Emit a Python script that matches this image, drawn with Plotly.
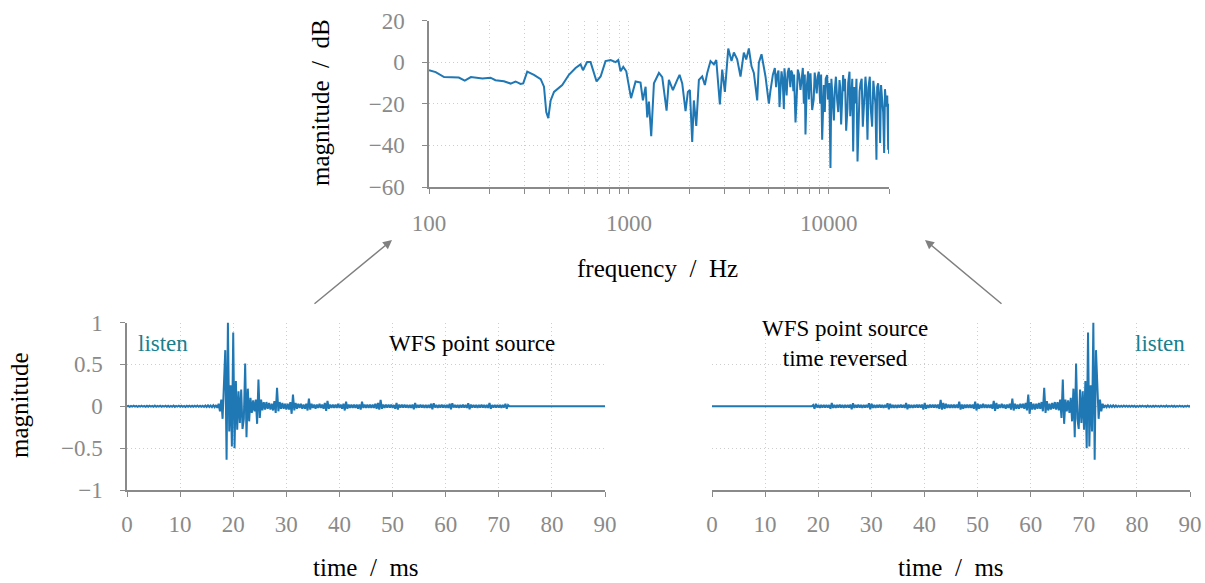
import plotly.graph_objects as go

# frequency response (top): values
freq_hz = [
    100, 108, 119, 141, 151, 162, 185, 203, 215, 237,
    256, 271, 287, 296, 310, 335, 362, 376, 386, 395,
    406, 422, 464, 501, 541, 573, 589, 618, 643, 668,
    689, 722, 764, 810, 858, 885, 908, 937, 970, 1025,
    1080, 1143, 1175, 1212, 1235, 1259, 1293, 1334, 1413, 1468,
    1543, 1585, 1660, 1745, 1792, 1848, 1920, 1972, 2018, 2073,
    2113, 2172, 2239, 2326, 2399, 2465, 2560, 2661, 2735, 2851,
    2929, 3020, 3140, 3261, 3350, 3480, 3616, 3758, 3861, 3981,
    4104, 4217, 4383, 4467, 4606, 4822, 5012, 5100, 5166, 5250,
    5370, 5450, 5516, 5600, 5667, 5720, 5798, 5880, 5957, 6000,
    6071, 6150, 6230, 6310, 6420, 6480, 6556, 6650, 6700, 6813,
    6900, 6998, 7100, 7215, 7300, 7413, 7500, 7580, 7643, 7750,
    7880, 7950, 8000, 8099, 8150, 8254, 8400, 8500, 8577, 8700,
    8800, 8913, 9050, 9150, 9261, 9350, 9441, 9550, 9650, 9809,
    9900, 10050, 10193, 10300, 10471, 10600, 10715, 10850, 11007, 11150,
    11308, 11400, 11524, 11650, 11794, 11900, 12050, 12209, 12400, 12500,
    12690, 12800, 12985, 13100, 13237, 13400, 13600, 13750, 13917, 14100,
    14250, 14402, 14600, 14791, 15000, 15250, 15400, 15609, 15800, 16032,
    16200, 16469, 16700, 16916, 17100, 17309, 17450, 17644, 17850, 18059,
    18250, 18493, 18700, 18914, 19100, 19364, 19600, 19815, 19900, 20000,
]
mag_db = [
    -3.9, -4.8, -7.2, -7.4, -8.9, -7.2, -7.9, -7.5, -8.7, -9.2,
    -10.3, -9.3, -10.5, -10.2, -4.6, -6.1, -8.2, -11.8, -24.0, -26.9,
    -18.4, -14.3, -11.0, -6.1, -2.8, -1.1, -3.9, 0.0, 0.0, -5.2,
    -9.3, -6.9, 0.5, 1.0, 0.0, 1.0, -4.4, -2.3, -4.4, -17.3,
    -9.3, -9.8, -18.4, -11.8, -26.6, -19.0, -35.6, -10.2, -5.2, -7.2,
    -23.3, -8.5, -13.4, -8.5, -6.1, -10.2, -23.6, -14.3, -13.4, -38.4,
    -18.4, -30.7, -8.5, -6.9, -11.0, -5.2, 0.5, -1.1, 1.0, -20.3,
    -3.6, -14.3, 6.5, 0.5, 4.6, 1.3, -6.9, 4.6, 1.3, 6.6,
    -2.0, -5.2, -18.4, -0.3, 3.8, -6.9, -20.0, -14.0, -10.2, -6.0,
    -2.8, -12.0, -6.1, -4.0, -21.6, -15.0, -4.4, -9.0, -22.5, -3.0,
    -10.2, -16.0, -5.0, -2.8, -12.0, -4.0, -5.2, -14.0, -6.0, -29.0,
    -18.0, -3.6, -6.0, -13.4, -9.0, -2.8, -20.0, -6.0, -34.8, -12.0,
    -4.4, -18.0, -8.0, -5.4, -12.0, -23.0, -18.0, -5.0, -8.6, -15.0,
    -7.0, -4.6, -20.0, -6.0, -37.3, -16.0, -11.0, -24.0, -8.0, -6.2,
    -18.0, -10.0, -50.9, -8.0, -23.0, -28.0, -13.4, -7.0, -18.2, -24.0,
    -8.6, -12.0, -30.0, -20.0, -6.2, -14.0, -8.0, -33.0, -22.0, -10.0,
    -4.6, -26.0, -16.6, -8.0, -42.9, -12.0, -19.8, -8.0, -47.7, -26.0,
    -14.0, -10.2, -8.0, -31.0, -22.0, -7.0, -13.0, -37.3, -12.0, -7.0,
    -22.0, -31.0, -9.0, -14.2, -20.0, -46.9, -12.0, -10.2, -16.0, -38.9,
    -11.0, -18.2, -24.0, -43.7, -13.0, -21.4, -16.0, -42.1, -20.0, -44.0,
]

# impulse response (bottom left), one value every 0.25 ms, zero after 72 ms
ir_step_ms = 0.25
ir_end_ms = 90.8
ir = [
    0.000, 0.004, -0.006, 0.005, -0.004, 0.006, -0.005, 0.004,      # 0-2 ms
    -0.006, 0.005, -0.004, 0.007, -0.005, 0.004, -0.006, 0.005,     # 2-4
    -0.007, 0.006, -0.004, 0.005, -0.006, 0.008, -0.005, 0.004,     # 4-6
    -0.005, 0.006, -0.007, 0.005, -0.004, 0.007, -0.006, 0.005,     # 6-8
    -0.006, 0.004, -0.005, 0.008, -0.007, 0.005, -0.004, 0.006,     # 8-10
    -0.005, 0.007, -0.006, 0.004, -0.008, 0.006, -0.005, 0.007,     # 10-12
    -0.006, 0.005, -0.007, 0.006, -0.005, 0.008, -0.006, 0.005,     # 12-14
    -0.007, 0.006, -0.008, 0.009, -0.008, 0.010, -0.009, 0.008,     # 14-16
    -0.010, 0.012, -0.011, 0.014, -0.02, 0.03, -0.06, 0.08,         # 16-18
    -0.15, 0.20, 0.67, -0.64, 1.00, -0.30, 0.25, -0.48,             # 18-20
    0.88, -0.50, 0.30, -0.28, 0.18, -0.20, 0.20, -0.27,             # 20-22
    -0.15, 0.51, -0.37, 0.21, -0.18, 0.10, -0.08, 0.07,             # 22-24
    -0.06, 0.08, -0.21, 0.32, -0.14, 0.08, -0.05, 0.05,             # 24-26
    -0.04, 0.05, -0.03, 0.04, -0.04, 0.03, -0.05, 0.06,             # 26-28
    -0.08, 0.22, -0.06, 0.05, -0.03, 0.04, -0.03, 0.03,             # 28-30
    -0.04, 0.03, -0.04, 0.05, -0.09, 0.14, -0.05, 0.04,             # 30-32
    -0.03, 0.03, -0.02, 0.03, -0.03, 0.02, -0.03, 0.03,             # 32-34
    -0.05, 0.09, -0.04, 0.03, -0.02, 0.02, -0.03, 0.02,             # 34-36
    -0.02, 0.03, -0.02, 0.02, -0.03, 0.04, -0.055, 0.065,           # 36-38
    -0.03, 0.02, -0.02, 0.02, -0.02, 0.02, -0.02, 0.03,             # 38-40
    -0.02, 0.02, -0.03, 0.03, -0.05, 0.055, -0.03, 0.02,            # 40-42
    -0.02, 0.02, -0.02, 0.02, -0.02, 0.02, -0.03, 0.02,             # 42-44
    -0.04, 0.055, -0.02, 0.02, -0.02, 0.02, -0.02, 0.02,            # 44-46
    -0.02, 0.02, -0.02, 0.03, -0.03, 0.04, -0.04, 0.075,            # 46-48
    -0.03, 0.02, -0.02, 0.02, -0.015, 0.02, -0.015, 0.02,           # 48-50
    -0.02, 0.015, -0.03, 0.04, -0.04, 0.02, -0.015, 0.02,           # 50-52
    -0.015, 0.02, -0.015, 0.015, -0.02, 0.015, -0.02, 0.02,         # 52-54
    -0.035, 0.04, -0.02, 0.015, -0.015, 0.02, -0.015, 0.015,        # 54-56
    -0.02, 0.015, -0.02, 0.015, -0.02, 0.03, -0.035, 0.035,         # 56-58
    -0.015, 0.015, -0.02, 0.015, -0.015, 0.02, -0.015, 0.015,       # 58-60
    -0.02, 0.015, -0.02, 0.03, -0.035, 0.035, -0.015, 0.015,        # 60-62
    -0.015, 0.015, -0.02, 0.015, -0.015, 0.02, -0.015, 0.015,       # 62-64
    -0.02, 0.035, -0.035, 0.02, -0.015, 0.015, -0.015, 0.015,       # 64-66
    -0.02, 0.015, -0.015, 0.02, -0.015, 0.015, -0.02, 0.015,        # 66-68
    -0.02, 0.04, -0.03, 0.015, -0.015, 0.015, -0.015, 0.015,        # 68-70
    -0.015, 0.015, -0.02, 0.015, -0.015, 0.03, -0.03, 0.015,        # 70-72
    0.0,
]

freq_ticks = [100, 1000, 10000]
freq_ticktext = ["100", "1000", "10000"]
freq_minor = [200, 300, 400, 500, 600, 700, 800, 900,
              2000, 3000, 4000, 5000, 6000, 7000, 8000, 9000, 20000]
db_ticks = [-60, -40, -20, 0, 20]
time_ticks = [0, 10, 20, 30, 40, 50, 60, 70, 80, 90]
mag_ticks = [-1, -0.5, 0, 0.5, 1]
mag_ticktext = ["\u22121", "\u22120.5", "0", "0.5", "1"]

# build the time axes (right panel is the same response, time reversed)
t_ms = [i * ir_step_ms for i in range(len(ir))] + [ir_end_ms]
ir_y = ir + [0.0]
t_rev = [ir_end_ms - t for t in t_ms]

W, H = 1205, 583
BLUE = "#1f77b4"
GRAY = "#8a8a8a"
GRID = "#cdcdcd"
TEAL = "#17808f"
FONT = "Liberation Serif"
SEP = "\u2002/\u2002"


def px(x):
    return x / W


def py(y):
    return 1 - y / H


tickfont = dict(family=FONT, size=23, color=GRAY)
axis_style = dict(
    showline=True, linecolor=GRAY, linewidth=1.5, automargin=False,
    ticks="outside", tickcolor=GRAY, ticklen=5, tickwidth=1.2,
    tickfont=tickfont, showgrid=True, gridcolor=GRID, gridwidth=1,
    griddash="1px,3px", zeroline=False,
)

fig = go.Figure()
fig.add_trace(go.Scatter(x=freq_hz, y=mag_db, mode="lines",
                         line=dict(color=BLUE, width=2), xaxis="x", yaxis="y"))
fig.add_trace(go.Scatter(x=t_ms, y=ir_y, mode="lines",
                         line=dict(color=BLUE, width=2), xaxis="x2", yaxis="y2"))
fig.add_trace(go.Scatter(x=t_rev, y=ir_y, mode="lines",
                         line=dict(color=BLUE, width=2), xaxis="x3", yaxis="y3"))

fig.update_layout(
    width=W, height=H,
    margin=dict(l=0, r=0, t=0, b=0),
    paper_bgcolor="white", plot_bgcolor="white",
    showlegend=False,
    font=dict(family=FONT, size=25, color="black"),
    xaxis=dict(axis_style, type="log", range=[2, 4.30103],
               tickvals=freq_ticks, ticktext=freq_ticktext,
               domain=[px(429), px(889)], anchor="y", ticklabelstandoff=10,
               minor=dict(tickvals=freq_minor, ticks="outside", ticklen=5,
                          tickcolor=GRAY, showgrid=True, gridcolor=GRID,
                          griddash="1px,3px", gridwidth=1)),
    yaxis=dict(axis_style, range=[-60, 20], tickvals=db_ticks,
               domain=[py(187), py(20.5)], anchor="x", ticklabelstandoff=13),
    xaxis2=dict(axis_style, range=[0, 90], tickvals=time_ticks,
                domain=[px(127), px(605)], anchor="y2", ticklabelstandoff=8),
    yaxis2=dict(axis_style, range=[-1, 1], tickvals=mag_ticks, ticktext=mag_ticktext,
                domain=[py(490), py(322.5)], anchor="x2", ticklabelstandoff=13),
    xaxis3=dict(axis_style, range=[0, 90], tickvals=time_ticks,
                domain=[px(712), px(1190)], anchor="y3", ticklabelstandoff=8),
    yaxis3=dict(axis_style, range=[-1, 1], tickvals=mag_ticks,
                showline=False, ticks="", showticklabels=False,
                domain=[py(490), py(322.5)], anchor="x3"),
)

labels = [
    dict(text="magnitude" + SEP + "dB", x=px(321), y=py(103), textangle=-90),
    dict(text="frequency" + SEP + "Hz", x=px(658), y=py(268)),
    dict(text="magnitude", x=px(19), y=py(405), textangle=-90),
    dict(text="time" + SEP + "ms", x=px(366), y=py(567)),
    dict(text="time" + SEP + "ms", x=px(951), y=py(567)),
    dict(text="WFS point source", x=px(472), y=py(343), font=dict(size=23)),
    dict(text="WFS point source<br>time reversed", x=px(845), y=py(343),
         font=dict(size=23)),
    dict(text="listen", x=px(163), y=py(343), font=dict(size=23, color=TEAL)),
    dict(text="listen", x=px(1160), y=py(343), font=dict(size=23, color=TEAL)),
]
for a in labels:
    fig.add_annotation(xref="paper", yref="paper", xanchor="center",
                       yanchor="middle", showarrow=False, **a)

# arrows from the impulse responses up to the spectrum
for head_x, tail_x in [(392, 313), (925, 1003)]:
    fig.add_annotation(xref="paper", yref="paper", x=px(head_x), y=py(240),
                       ax=tail_x - head_x, ay=65, text="", showarrow=True,
                       arrowhead=2, arrowsize=1.2, arrowwidth=1.5,
                       arrowcolor="#808080")

# drop the default page margin so the figure sits at the window's corner
fig.write_html("out.html", config={"displayModeBar": False},
               post_script="document.body.style.margin='0';")
